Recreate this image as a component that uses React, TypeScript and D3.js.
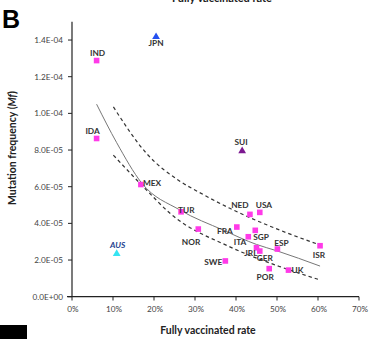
import React from "react";
import * as d3 from "d3";

const countries = ["IND","JPN","IDA","SUI","MEX","TUR","NED","USA","NOR","FRA","SGP","ITA","ESP","ISR","JRL","GER","SWE","POR","UK","AUS"];
const vaccinated = [0.060,0.205,0.060,0.415,0.168,0.266,0.434,0.458,0.308,0.402,0.447,0.430,0.501,0.605,0.450,0.458,0.374,0.481,0.528,0.109];
const mutationFreq = [1.288e-4,1.42e-4,8.63e-5,7.98e-5,6.12e-5,4.63e-5,4.49e-5,4.6e-5,3.69e-5,3.8e-5,3.62e-5,3.27e-5,2.6e-5,2.78e-5,2.67e-5,2.49e-5,1.95e-5,1.53e-5,1.45e-5,2.37e-5];
const markerKind = ["sq","triBlue","sq","triPurple","sq","sq","sq","sq","sq","sq","sq","sq","sq","sq","sq","sq","sq","sq","sq","triCyan"];

const fitX = [0.060,0.109,0.170,0.263,0.369,0.450,0.500,0.605];
const fitY = [1.05e-4,8.4e-5,6.2e-5,4.73e-5,3.63e-5,2.85e-5,2.5e-5,1.67e-5];
const upperX = [0.101,0.182,0.263,0.308,0.385,0.507,0.605];
const upperY = [1.035e-4,7.81e-5,6.3e-5,5.72e-5,4.82e-5,3.63e-5,2.82e-5];
const lowerX = [0.101,0.182,0.239,0.385,0.507,0.600];
const lowerY = [7.72e-5,5.81e-5,4.55e-5,2.72e-5,1.64e-5,9.5e-6];

const xTicks = [0,0.1,0.2,0.3,0.4,0.5,0.6,0.7];
const yTicks = [0,2e-5,4e-5,6e-5,8e-5,1e-4,1.2e-4,1.4e-4];
const yTickLabels = ["0.0E+00","2.0E-05","4.0E-05","6.0E-05","8.0E-05","1.0E-04","1.2E-04","1.4E-04"];

// label placement: [dx, dy, anchor]
const labelPlace: Record<string, [number, number, string]> = {
  IND: [1, -5, "middle"], JPN: [0, 10, "middle"], IDA: [-4, -4, "middle"], SUI: [-1, -5, "middle"],
  MEX: [2, 1, "start"], TUR: [-3, 1.5, "start"], NED: [-10, -6, "middle"], USA: [-4, -4, "start"],
  NOR: [2, 16, "end"], FRA: [-4, 7, "end"], SGP: [-2, 10, "start"], ITA: [-2, 8, "end"],
  ESP: [4, -3, "middle"], ISR: [-1, 12, "middle"], JRL: [1, 8, "end"], GER: [-3, 10, "start"],
  SWE: [-3, 4, "end"], POR: [-4, 11, "middle"], UK: [3, 3, "start"], AUS: [1, -5, "middle"],
};

const markerColor: Record<string, string> = { sq: "#ff3ae8", triBlue: "#2450f0", triPurple: "#7c1890", triCyan: "#35e4f2" };

export default function App() {
  const x = d3.scaleLinear().domain([0, 0.7]).range([72, 359]);
  const y = d3.scaleLinear().domain([0, 1.5e-4]).range([296.7, 21.7]);
  const line = d3.line<[number, number]>().x(d => x(d[0])).y(d => y(d[1])).curve(d3.curveMonotoneX);
  const fit = line(fitX.map((v, i) => [v, fitY[i]]));
  const up = line(upperX.map((v, i) => [v, upperY[i]]));
  const lo = line(lowerX.map((v, i) => [v, lowerY[i]]));
  const font = "Lato, 'Open Sans', sans-serif";
  const tri = d3.symbol().type(d3.symbolTriangle).size(26)();

  return (
    <svg width={370} height={339} style={{ position: "absolute", left: 0, top: 0, background: "#fff" }} fontFamily={font}>
      <text x={222} y={1.5} textAnchor="middle" fontSize={11} fontWeight="bold" fill="#222">Fully vaccinated rate</text>
      <text x={2} y={28} fontSize={25} fontWeight="900" fill="#000" fontFamily="'Liberation Sans', Arial, sans-serif">B</text>

      {/* axes */}
      <line x1={72} x2={72} y1={21.7} y2={296.7} stroke="#222" strokeWidth={1.2} />
      <line x1={67} x2={359} y1={296.7} y2={296.7} stroke="#222" strokeWidth={1.2} />
      {yTicks.map((t, i) => (
        <g key={"y" + i}>
          <line x1={68} x2={72} y1={y(t)} y2={y(t)} stroke="#222" strokeWidth={1} />
          <text x={63} y={y(t) + 3} textAnchor="end" fontSize={8.2} fill="#444">{yTickLabels[i]}</text>
        </g>
      ))}
      {xTicks.map((t, i) => (
        <g key={"x" + i}>
          <line x1={x(t)} x2={x(t)} y1={296.7} y2={300.5} stroke="#222" strokeWidth={1} />
          <text x={x(t) + 1} y={312} textAnchor="middle" fontSize={8.2} fill="#444">{Math.round(t * 100) + "%"}</text>
        </g>
      ))}
      <text x={208} y={334} textAnchor="middle" fontSize={10.5} fontWeight="bold" fill="#222">Fully vaccinated rate</text>
      <text transform="translate(16,148) rotate(-90)" textAnchor="middle" fontSize={10.5} fontWeight="bold" fill="#222">
        Mutation frequency (<tspan fontStyle="italic">Mf</tspan>)
      </text>
      <rect x={0} y={325} width={27} height={14} fill="#000" />

      {/* fit curves */}
      <path d={fit || ""} fill="none" stroke="#777" strokeWidth={1} />
      <path d={up || ""} fill="none" stroke="#333" strokeWidth={1.2} strokeDasharray="3.5,3" />
      <path d={lo || ""} fill="none" stroke="#333" strokeWidth={1.2} strokeDasharray="3.5,3" />

      {/* points */}
      {countries.map((c, i) => {
        const px = x(vaccinated[i]);
        const py = y(mutationFreq[i]);
        const k = markerKind[i];
        return k === "sq" ? (
          <rect key={"p" + c} x={px - 2.8} y={py - 2.8} width={5.6} height={5.6} fill={markerColor[k]} />
        ) : (
          <path key={"p" + c} d={tri || ""} transform={`translate(${px},${py + 0.5})`} fill={markerColor[k]} />
        );
      })}
      {countries.map((c, i) => {
        const [dx, dy, anchor] = labelPlace[c];
        const isAus = c === "AUS";
        return (
          <text key={"l" + c} x={x(vaccinated[i]) + dx} y={y(mutationFreq[i]) + dy} textAnchor={anchor as any}
            fontSize={8.3} fontWeight="bold" fill={isAus ? "#1d3f8f" : "#333"} fontStyle={isAus ? "italic" : "normal"}>
            {c}
          </text>
        );
      })}
    </svg>
  );
}
